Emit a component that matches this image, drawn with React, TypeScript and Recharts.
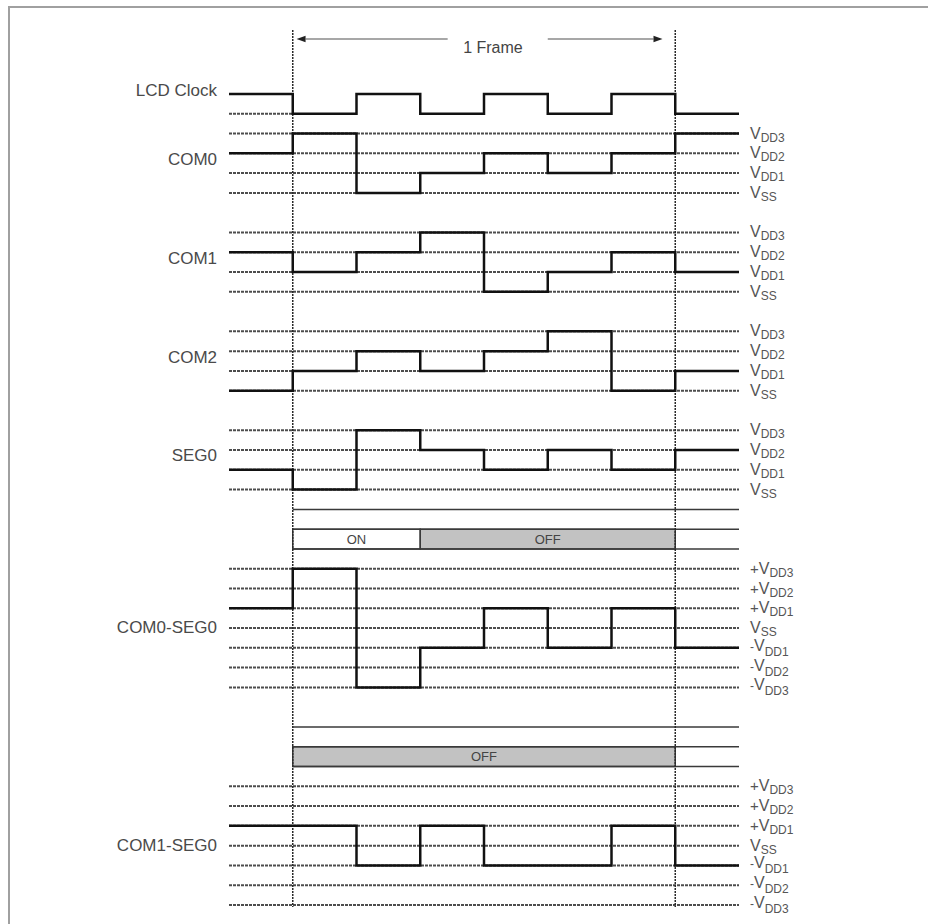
import { ComposedChart, Line, XAxis, YAxis, ReferenceLine, ReferenceArea, ReferenceDot } from 'recharts';

// Timing diagram of a 1/3-bias, 1/3-duty LCD drive: one frame = 6 clock half-periods.
// Time axis runs from one step before the frame to one step after it.
const TIMES = [-1, 0, 1, 2, 3, 4, 5, 6, 7];

// Level per time step (8 steps, -1..7). COM/SEG: 3=VDD3 .. 0=VSS, diffs: +3 .. -3
const CLOCK = [1, 0, 1, 0, 1, 0, 1, 0];
const COM0 = [2, 3, 0, 1, 2, 1, 2, 3];
const COM1 = [2, 1, 2, 3, 0, 1, 2, 1];
const COM2 = [0, 1, 2, 1, 2, 3, 0, 1];
const SEG0 = [1, 0, 3, 2, 1, 2, 1, 2];
const COM0_SEG0 = [1, 3, -3, -1, 1, -1, 1, -1];
const COM1_SEG0 = [1, 1, -1, 1, -1, -1, 1, -1];

const COM_LEVELS = ['VDD3', 'VDD2', 'VDD1', 'VSS'];
const DIFF_LEVELS = ['+VDD3', '+VDD2', '+VDD1', 'VSS', '-VDD1', '-VDD2', '-VDD3'];

// pixel segment states (start step, end step)
const STATE_COM0 = [
  { label: 'ON', from: 0, to: 2 },
  { label: 'OFF', from: 2, to: 6 },
];
const STATE_COM1 = [{ label: 'OFF', from: 0, to: 6 }];

const FONT = '"Liberation Sans", Arial, Helvetica, sans-serif';
const W = 928;
const H = 924;
const UNIT = 19.78; // px per level row
const ROW0_Y = 94; // pixel y of row 0
const Y_MIN = -4;
const Y_MAX = 41.5;

// layout: top row for each trace, label row on the left
const SIGNALS = [
  { name: 'LCD Clock', values: CLOCK, top: 0, max: 1, labelRow: -0.2, levels: null as string[] | null },
  { name: 'COM0', values: COM0, top: 2, max: 3, labelRow: 3.26, levels: COM_LEVELS },
  { name: 'COM1', values: COM1, top: 7, max: 3, labelRow: 8.3, levels: COM_LEVELS },
  { name: 'COM2', values: COM2, top: 12, max: 3, labelRow: 13.27, levels: COM_LEVELS },
  { name: 'SEG0', values: SEG0, top: 17, max: 3, labelRow: 18.25, levels: COM_LEVELS },
  { name: 'COM0-SEG0', values: COM0_SEG0, top: 24, max: 3, labelRow: 26.92, levels: DIFF_LEVELS },
  { name: 'COM1-SEG0', values: COM1_SEG0, top: 35, max: 3, labelRow: 37.97, levels: DIFF_LEVELS },
];

const STATUS = [
  { rows: [21, 22, 23], states: STATE_COM0 },
  { rows: [32, 33, 34], states: STATE_COM1 },
];

const traceData = (s: (typeof SIGNALS)[number]) =>
  TIMES.map((t, i) => ({ t, y: s.top + s.max - s.values[Math.min(i, s.values.length - 1)] }));

const levelRows: { row: number; label: string }[] = [];
SIGNALS.forEach((s) => {
  if (s.levels) s.levels.forEach((label, j) => levelRows.push({ row: s.top + j, label }));
});

function LevelTick({ x, y, payload }: any) {
  const item = levelRows.find((r) => r.row === payload.value);
  if (!item) return null;
  const txt = item.label;
  const prefix = txt[0] === '+' || txt[0] === '-' ? txt[0] : '';
  const sub = txt.slice(prefix.length + 1);
  const minus = prefix === '-';
  return (
    <text x={x} y={y + (minus ? 3 : 5)} fontSize={16} fill="#555" fontFamily={FONT}>
      {prefix && <tspan fontSize={minus ? 12 : 15}>{prefix}</tspan>}
      <tspan>V</tspan>
      <tspan fontSize={12} dy={minus ? 5 : 3}>
        {sub}
      </tspan>
    </text>
  );
}

function Arrow(p: any) {
  const { x1, y1, x2, y2 } = p;
  const dir = Math.sign(x2 - x1);
  const head = 9;
  return (
    <g>
      <line x1={x1} y1={y1} x2={x2 - dir * head} y2={y2} stroke="#8a8a8a" strokeWidth={1.6} />
      <polygon points={`${x2},${y2} ${x2 - dir * head},${y2 - 3.2} ${x2 - dir * head},${y2 + 3.2}`} fill="#222" />
    </g>
  );
}

const guide = { stroke: '#4d4d4d', strokeWidth: 2, strokeDasharray: '3 1' };

export default function App() {
  const top = ROW0_Y + Y_MIN * UNIT;
  const bottom = H - (ROW0_Y + Y_MAX * UNIT);

  return (
    <div style={{ position: 'relative', width: W, height: H, overflow: 'hidden', background: '#fff' }}>
      <style>{'body{margin:0}'}</style>
      <div
        style={{
          position: 'absolute',
          left: 8,
          top: 6,
          width: W - 8,
          height: H - 6,
          boxSizing: 'border-box',
          borderLeft: '2px solid #a0a0a0',
          borderTop: '2px solid #a0a0a0',
        }}
      />
      <ComposedChart
        width={W}
        height={H}
        margin={{ top, right: 0, bottom, left: 0 }}
        style={{ position: 'absolute', left: 0, top: 0, fontFamily: FONT }}
      >
        <XAxis type="number" dataKey="t" domain={[-1, 7]} allowDataOverflow hide />
        <YAxis
          yAxisId="left"
          type="number"
          domain={[Y_MIN, Y_MAX]}
          reversed
          allowDataOverflow
          width={229}
          axisLine={false}
          tickLine={false}
          tickSize={0}
          tickMargin={12}
          interval={0}
          ticks={SIGNALS.map((s) => s.labelRow)}
          tickFormatter={(v: number) => SIGNALS.find((s) => s.labelRow === v)?.name ?? ''}
          tick={{ fontSize: 17, fill: '#4a4a4a', fontFamily: FONT }}
        />
        <YAxis
          yAxisId="right"
          orientation="right"
          type="number"
          domain={[Y_MIN, Y_MAX]}
          reversed
          allowDataOverflow
          width={189}
          axisLine={false}
          tickLine={false}
          tickSize={0}
          tickMargin={11}
          interval={0}
          ticks={levelRows.map((r) => r.row)}
          tick={<LevelTick />}
        />

        {/* level guide lines */}
        {levelRows.map((r) => (
          <ReferenceLine key={'g' + r.row} yAxisId="left" y={r.row} {...guide} />
        ))}
        <ReferenceLine yAxisId="left" segment={[{ x: -1, y: 1 }, { x: 0, y: 1 }]} {...guide} />

        {/* ON / OFF status strips */}
        {STATUS.map((st, i) =>
          st.rows.map((r) => (
            <ReferenceLine
              key={`s${i}-${r}`}
              yAxisId="left"
              segment={[{ x: 0, y: r }, { x: 7, y: r }]}
              stroke="#3a3a3a"
              strokeWidth={1.5}
            />
          )),
        )}
        {STATUS.map((st, i) =>
          st.states.map((s) => (
            <ReferenceArea
              key={`a${i}-${s.from}`}
              yAxisId="left"
              x1={s.from}
              x2={s.to}
              y1={st.rows[1]}
              y2={st.rows[2]}
              fill={s.label === 'ON' ? '#ffffff' : '#c2c2c2'}
              fillOpacity={1}
              stroke="#3a3a3a"
              strokeWidth={1.5}
              label={{ value: s.label, position: 'center', fontSize: 13, fill: '#444', fontFamily: FONT }}
            />
          )),
        )}

        {/* frame boundaries and the "1 Frame" arrow */}
        {[0, 6].map((x) => (
          <ReferenceLine
            key={'f' + x}
            yAxisId="left"
            segment={[{ x, y: -3.24 }, { x, y: 41.1 }]}
            stroke="#2a2a2a"
            strokeWidth={1.5}
            strokeDasharray="2 1"
          />
        ))}
        <ReferenceLine yAxisId="left" segment={[{ x: 2.43, y: -2.78 }, { x: 0.06, y: -2.78 }]} shape={<Arrow />} />
        <ReferenceLine yAxisId="left" segment={[{ x: 4.0, y: -2.78 }, { x: 5.8, y: -2.78 }]} shape={<Arrow />} />
        <ReferenceDot
          yAxisId="left"
          x={3.14}
          y={-2.38}
          r={0}
          fill="none"
          stroke="none"
          label={{ value: '1 Frame', position: 'center', fontSize: 16, fill: '#444', fontFamily: FONT }}
        />

        {SIGNALS.map((s) => (
          <Line
            key={s.name}
            yAxisId="left"
            data={traceData(s)}
            dataKey="y"
            type="stepAfter"
            stroke="#111"
            strokeWidth={2.5}
            dot={false}
            isAnimationActive={false}
          />
        ))}
      </ComposedChart>
    </div>
  );
}
